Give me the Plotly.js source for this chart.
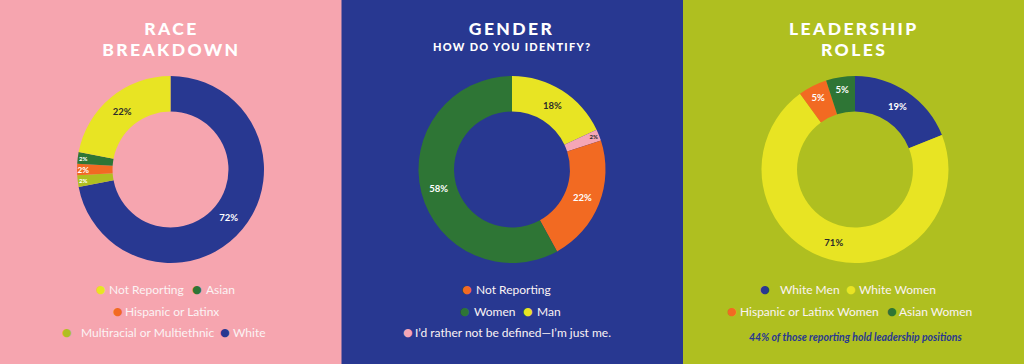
<!DOCTYPE html>
<html>
<head>
<meta charset="utf-8">
<script src="https://cdn.plot.ly/plotly-3.0.1.min.js"></script>
<style>
  html, body { margin: 0; padding: 0; background: #f6a5af; }
  #chart { width: 1024px; height: 364px; }
  g.annotation.ttl text { letter-spacing: 2.4px; }
  g.annotation.sub text { letter-spacing: 1.3px; }
</style>
</head>
<body>
<div id="chart"></div>
<script>
// ---------- data ----------
const raceLabels = ['White', 'Multiracial or Multiethnic', 'Hispanic or Latinx', 'Asian', 'Not Reporting'];
const raceValues = [72, 2, 2, 2, 22];

const genderLabels = ['Man', 'I’d rather not be defined—I’m just me.', 'Not Reporting', 'Women'];
const genderValues = [18, 2, 22, 58];

const leadLabels = ['White Men', 'White Women', 'Hispanic or Latinx Women', 'Asian Women'];
const leadValues = [19, 71, 5, 5];

const titles = ['RACE', 'BREAKDOWN', 'GENDER', 'HOW DO YOU IDENTIFY?', 'LEADERSHIP', 'ROLES'];
const noteText = '44% of those reporting hold leadership positions';

// ---------- styles ----------
const C = {
  pink: '#f6a5af', navy: '#283891', olive: '#afbf20', yellow: '#e8e423',
  green: '#2e7535', orange: '#f26a22', lpink: '#f5a6b6', dark: '#2b2b2b', white: '#ffffff'
};
const colorOf = {
  'White': C.navy, 'Multiracial or Multiethnic': C.olive, 'Hispanic or Latinx': C.orange,
  'Asian': C.green, 'Not Reporting': C.yellow,
  'Man': C.yellow, 'I’d rather not be defined—I’m just me.': C.lpink, 'Women': C.green,
  'White Men': C.navy, 'White Women': C.yellow, 'Hispanic or Latinx Women': C.orange, 'Asian Women': C.green
};
const W = 1024, H = 364;
const px = x => x / W, py = y => 1 - y / H;

function pieTrace(labels, values, cx, notRepColor) {
  const r = 93.5, cy = 169.5;
  const cols = labels.map(l => (l === 'Not Reporting' && notRepColor) ? notRepColor : colorOf[l]);
  const txtCols = cols.map(c => (c === C.yellow || c === C.lpink) ? C.dark : C.white);
  return {
    type: 'pie', labels: labels, values: values, sort: false, direction: 'clockwise', rotation: 0,
    hole: 0.62, textinfo: 'text', texttemplate: '%{value}%', textposition: 'inside',
    insidetextorientation: 'horizontal',
    textfont: { family: 'Lato, sans-serif', size: 9.5, color: txtCols, weight: 700 },
    marker: { colors: cols, line: { width: 0 } },
    domain: { x: [px(cx - r), px(cx + r)], y: [py(cy + r), py(cy - r)] },
    showlegend: false, hoverinfo: 'label+percent'
  };
}

const data = [
  pieTrace(raceLabels, raceValues, 170.5, C.yellow),
  pieTrace(genderLabels, genderValues, 512, C.orange),
  pieTrace(leadLabels, leadValues, 855)
];

// ---------- layout positions ----------
const titlePos = [
  [171, 28.5, 17.5], [171, 49.5, 17.5], [512, 29, 17.5], [512, 46.5, 11], [854, 28.5, 17.5], [854, 49.5, 17.5]
];
// [label, dot centre x, text left x, row y]
const legendPos = [
  ['Not Reporting', 101, 108, 289], ['Asian', 197, 205, 289], ['Hispanic or Latinx', 118, 124, 311],
  ['Multiracial or Multiethnic', 67, 80, 332], ['White', 225, 232, 332],
  ['Not Reporting#g', 467, 475, 289], ['Women', 465, 473, 311], ['Man', 528, 536, 311],
  ['I’d rather not be defined—I’m just me.', 408, 414, 332],
  ['White Men', 765, 779, 289], ['White Women', 851, 858, 289],
  ['Hispanic or Latinx Women', 732, 739, 311], ['Asian Women', 892, 898, 311]
];

const annotations = [];
titles.forEach((t, i) => {
  const [x, y, s] = titlePos[i];
  annotations.push({
    text: t, x: px(x), y: py(y), xref: 'paper', yref: 'paper', xanchor: 'center', yanchor: 'middle',
    showarrow: false, borderpad: 0, font: { family: 'Lato, sans-serif', size: s, color: C.white, weight: 900 }
  });
});
legendPos.forEach(([lab, dx, tx, y]) => {
  const isG = lab.endsWith('#g');
  const label = isG ? lab.slice(0, -2) : lab;
  const col = isG ? C.orange : colorOf[label];
  annotations.push({
    text: '●', x: px(dx), y: py(y + 0.5), xref: 'paper', yref: 'paper', xanchor: 'center', yanchor: 'middle',
    showarrow: false, borderpad: 0, font: { family: 'DejaVu Sans', size: 11, color: col }
  });
  annotations.push({
    text: label, x: px(tx), y: py(y), xref: 'paper', yref: 'paper', xanchor: 'left', yanchor: 'middle',
    showarrow: false, borderpad: 0, font: { family: 'Lato, sans-serif', size: 12, color: '#fbf3f4' }
  });
});
annotations.push({
  text: '<i><b>' + noteText + '</b></i>', x: px(855), y: py(337), xref: 'paper', yref: 'paper',
  xanchor: 'center', yanchor: 'middle', showarrow: false, borderpad: 0,
  font: { family: 'Lato, sans-serif', size: 10.5, color: C.navy }
});

const shapes = [
  { type: 'rect', xref: 'paper', yref: 'paper', x0: 0, x1: px(341.5), y0: 0, y1: 1, fillcolor: C.pink, line: { width: 0 }, layer: 'below' },
  { type: 'rect', xref: 'paper', yref: 'paper', x0: px(341.5), x1: px(683), y0: 0, y1: 1, fillcolor: C.navy, line: { width: 0 }, layer: 'below' },
  { type: 'rect', xref: 'paper', yref: 'paper', x0: px(683), x1: 1, y0: 0, y1: 1, fillcolor: C.olive, line: { width: 0 }, layer: 'below' }
];

const layout = {
  width: W, height: H, margin: { l: 0, r: 0, t: 0, b: 0 },
  paper_bgcolor: C.pink, plot_bgcolor: 'rgba(0,0,0,0)',
  showlegend: false, annotations: annotations, shapes: shapes
};

Plotly.newPlot('chart', data, layout, { displayModeBar: false, staticPlot: true }).then(() => {
  document.querySelectorAll('g.annotation').forEach(g => {
    const i = +g.getAttribute('data-index');
    if (i < titles.length) g.classList.add(i === 3 ? 'sub' : 'ttl');
  });
});
</script>
</body>
</html>
